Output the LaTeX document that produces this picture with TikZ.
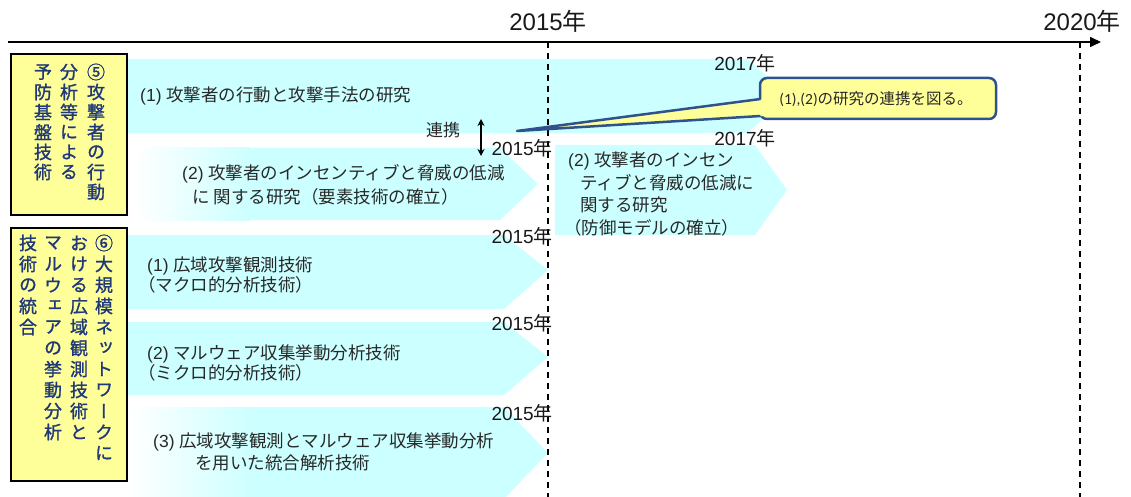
\documentclass[tikz,border=0pt]{standalone}
\usepackage{fontspec}
\setmainfont{Noto Sans CJK JP}
\newfontfamily\vjp[RawFeature=+vert, FakeBold=1.2]{Noto Sans CJK JP}
\newfontfamily\latfont{Liberation Sans}
\newfontfamily\carfont{Carlito}
\usetikzlibrary{arrows.meta}
\definecolor{bandcyan}{RGB}{204,255,255}
\definecolor{boxyellow}{RGB}{255,255,153}
\definecolor{vblue}{RGB}{31,56,120}
\definecolor{callblue}{RGB}{47,82,143}
\definecolor{txt}{RGB}{40,40,40}
\newcommand{\vtcol}[5]{\foreach \c [count=\i from 0] in {#5} {\node[vchar] (#1-\i) at (#2, {#3+\i*#4}) {\c};}}
\begin{document}
\begin{tikzpicture}[x=1pt,y=-1pt,
  band/.style={fill=bandcyan, draw=none},
  bandtext/.style={font=\fontsize{17.5}{21}\selectfont, text=txt, align=left, anchor=west, inner sep=0pt},
  yearlbl/.style={font=\fontsize{19}{21}\selectfont, text=black!90, inner sep=0pt},
  bigyear/.style={font=\fontsize{24}{26}\selectfont, text=black!90, inner sep=0pt},
  vchar/.style={font=\vjp\fontsize{18}{20}\selectfont, text=vblue, inner sep=0pt},
  ybox/.style={fill=boxyellow, draw=black, line width=1.5pt},
  timedash/.style={black, line width=1.5pt, dash pattern=on 6pt off 5pt},
  callout/.style={fill=boxyellow, draw=callblue, line width=2.5pt}]
\useasboundingbox (0,0) rectangle (1131,497);
% bands
\fill[band] (128,59) -- (747,59) -- (790,96) -- (747,133) -- (128,133) -- cycle;
\fill[band] (135,148) -- (500,148) -- (538,184) -- (500,220) -- (135,220) -- cycle;
\shade[left color=white, right color=bandcyan] (135,148) rectangle (250,220);
\fill[band] (555,145) -- (755,145) -- (787,190) -- (755,235) -- (555,235) -- cycle;
\fill[band] (128,235) -- (504,235) -- (548,270) -- (504,309) -- (128,309) -- cycle;
\fill[band] (128,322) -- (504,322) -- (548,357) -- (504,395) -- (128,395) -- cycle;
\fill[band] (128,407) -- (504,407) -- (548,453) -- (504,499) -- (128,499) -- cycle;
\shade[left color=white, right color=bandcyan] (128,407) rectangle (255,499);
% yellow boxes
\draw[ybox] (11,54) rectangle (127,215);
\draw[ybox] (11,228) rectangle (127,481);
% axis
\coordinate (axL) at (8,42);
\coordinate (axR) at (1101,42);
\draw[line width=1.5pt, -{Triangle[length=11pt,width=10pt]}] (axL) -- (axR);
\coordinate (d1t) at (548,42); \coordinate (d1b) at (548,497);
\coordinate (d2t) at (1080,42); \coordinate (d2b) at (1080,497);
\draw[timedash] (d1t) -- (d1b);
\draw[timedash] (d2t) -- (d2b);
\node[bigyear] (y2015) at (548,21) {{\latfont 2015}年};
\node[bigyear] (y2020) at (1082,21) {{\latfont 2020}年};
% small year labels
\node[yearlbl, anchor=east] (l1) at (553,148) {{\latfont 2015}年};
\node[yearlbl, anchor=east] (l2) at (553,236) {{\latfont 2015}年};
\node[yearlbl, anchor=east] (l3) at (553,323) {{\latfont 2015}年};
\node[yearlbl, anchor=east] (l4) at (553,413) {{\latfont 2015}年};
\node[yearlbl] (l5) at (745,63) {{\latfont 2017}年};
\node[yearlbl] (l6) at (745,138) {{\latfont 2017}年};
% band texts
\node[bandtext] (tA) at (140,96) {{\latfont (1) }攻撃者の行動と攻撃手法の研究};
\node[bandtext, font=\fontsize{17.5}{24}\selectfont] (tB) at (182,185) {{\latfont (2) }攻撃者のインセンティブと脅威の低減\\\hspace*{10pt}に 関する研究（要素技術の確立）};
\node[bandtext, font=\fontsize{17.5}{22.5}\selectfont] (tC) at (568,194) {{\latfont (2) }攻撃者のインセン\\\hspace*{12pt}ティブと脅威の低減に\\\hspace*{12pt}関する研究\\\hspace*{-4pt}（防御モデルの確立）};
\node[bandtext, font=\fontsize{17.5}{20.5}\selectfont] (tD) at (147,275) {{\latfont (1) }広域攻撃観測技術\\\hspace*{-9pt}（マクロ的分析技術）};
\node[bandtext, font=\fontsize{17.5}{20.5}\selectfont] (tE) at (147,363) {{\latfont (2) }マルウェア収集挙動分析技術\\\hspace*{-9pt}（ミクロ的分析技術）};
\node[bandtext, font=\fontsize{17.5}{22}\selectfont] (tF) at (153,452) {{\latfont (3) }広域攻撃観測とマルウェア収集挙動分析\\\hspace*{42pt}を用いた統合解析技術};
% renkei
\node[font=\fontsize{17}{18}\selectfont, text=txt, inner sep=0pt] (renkei) at (443,130) {連携};
\coordinate (rt) at (481,119);
\coordinate (rb) at (481,156);
\draw[line width=1.4pt, {Stealth[length=7pt,width=7pt]}-{Stealth[length=7pt,width=7pt]}] (rt) -- (rb);
% callout
\draw[callout, rounded corners=7pt] (760,78) rectangle (996,119);
\coordinate (ctip) at (517,131);
\fill[boxyellow] (764,99) -- (ctip) -- (764,116) -- cycle;
\draw[callblue, line width=2.5pt, line join=round] (760.5,99) -- (ctip) -- (760.5,116);
\node[font=\fontsize{15.5}{17}\selectfont, text=txt, inner sep=0pt] (ctext) at (876,99) {{\carfont (1),(2)}の研究の連携を図る。};
% vertical texts
\vtcol{a1}{96}{72}{20}{⑤,攻,撃,者,の,行,動}
\vtcol{a2}{69}{72}{20}{分,析,等,に,よ,る}
\vtcol{a3}{43}{72}{20}{予,防,基,盤,技,術}
\vtcol{b1}{104}{243}{21}{⑥,大,規,模,ネ,ッ,ト,ワ,ー,ク,に}
\vtcol{b2}{79}{243}{21}{お,け,る,広,域,観,測,技,術,と}
\vtcol{b3}{53}{243}{21}{マ,ル,ウ,ェ,ア,の,挙,動,分,析}
\vtcol{b4}{28}{243}{21}{技,術,の,統,合}
\end{tikzpicture}
\end{document}
